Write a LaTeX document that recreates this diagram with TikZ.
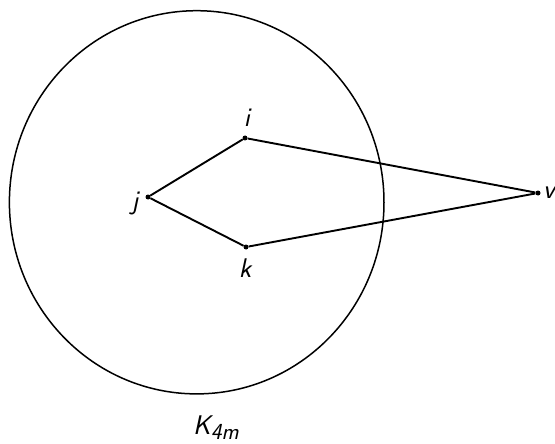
\documentclass[tikz,border=0pt]{standalone}
\usepackage{fontspec}
\usepackage{tikz}

\begin{document}
\begin{tikzpicture}[x=1pt,y=-1pt,
  vert/.style={circle,fill,inner sep=0pt,minimum size=5pt},
  lbl/.style={inner sep=0pt,font=\sffamily\itshape\fontsize{27}{30}\selectfont},
  edge/.style={line width=1.9pt,line join=round}]
  \useasboundingbox (0,0) rectangle (555,444);
  % the set K_4m
  \draw[line width=1.5pt] (196.7,202.3) ellipse [x radius=187.3pt, y radius=191.6pt];
  \node[lbl] (K) at (216,428) {K\raisebox{-5pt}{\fontsize{23}{25}\selectfont 4m}};
  % vertices
  \node[vert] (i) at (245,138) {};
  \node[vert] (j) at (148,197) {};
  \node[vert] (k) at (246,247) {};
  \node[vert] (v) at (538,193) {};
  \node[lbl] (il) at (247,118) {i};
  \node[lbl] (jl) at (135,203) {j};
  \node[lbl] (kl) at (245,268) {k};
  \node[lbl] (vl) at (549,193) {v};
  % edges
  \draw[edge] (i) -- (j) -- (k) -- (v) -- (i);
\end{tikzpicture}
\end{document}
